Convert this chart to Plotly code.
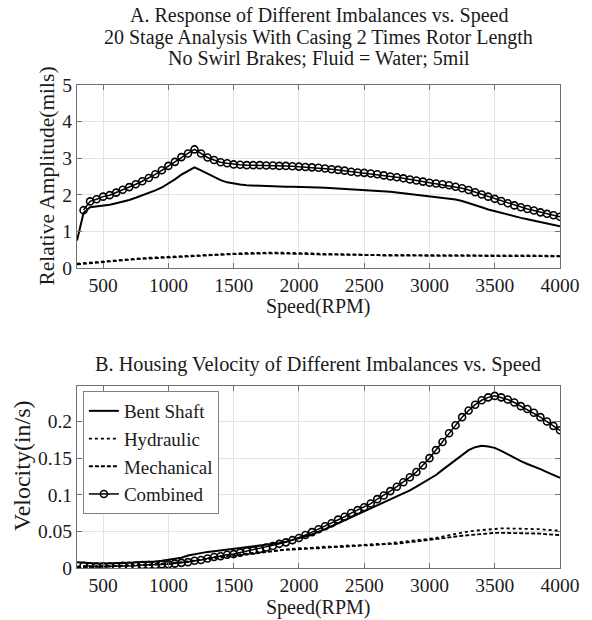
import plotly.graph_objects as go

# ---------------- data ----------------
speed = [300, 350, 400, 450, 500, 550, 600, 650, 700, 750, 800, 850, 900, 950,
         1000, 1050, 1100, 1150, 1200, 1250, 1300, 1350, 1400, 1450, 1500, 1550,
         1600, 1650, 1700, 1750, 1800, 1850, 1900, 1950, 2000, 2050, 2100, 2150,
         2200, 2250, 2300, 2350, 2400, 2450, 2500, 2550, 2600, 2650, 2700, 2750,
         2800, 2850, 2900, 2950, 3000, 3050, 3100, 3150, 3200, 3250, 3300, 3350,
         3400, 3450, 3500, 3550, 3600, 3650, 3700, 3750, 3800, 3850, 3900, 3950, 4000]

# Panel A: relative amplitude (mils)
amp_bent = [0.75, 1.50, 1.66, 1.68, 1.70, 1.73, 1.77, 1.81, 1.86, 1.92, 1.98, 2.05, 2.12, 2.20,
            2.30, 2.42, 2.55, 2.66, 2.75, 2.67, 2.58, 2.48, 2.40, 2.34, 2.30, 2.28,
            2.26, 2.25, 2.24, 2.24, 2.23, 2.23, 2.22, 2.22, 2.22, 2.21, 2.21, 2.20,
            2.19, 2.18, 2.17, 2.16, 2.15, 2.14, 2.13, 2.12, 2.11, 2.10, 2.08, 2.06,
            2.04, 2.02, 2.00, 1.98, 1.96, 1.94, 1.92, 1.90, 1.87, 1.83, 1.78, 1.72,
            1.66, 1.60, 1.55, 1.50, 1.45, 1.41, 1.37, 1.33, 1.29, 1.25, 1.21, 1.18, 1.14]
amp_hyd = [0.12, 0.13, 0.14, 0.16, 0.18, 0.19, 0.21, 0.22, 0.24, 0.25, 0.27, 0.28, 0.29, 0.30,
           0.31, 0.32, 0.33, 0.34, 0.35, 0.36, 0.37, 0.38, 0.38, 0.39, 0.40, 0.40,
           0.41, 0.41, 0.42, 0.42, 0.42, 0.42, 0.42, 0.41, 0.41, 0.40, 0.40, 0.39,
           0.39, 0.38, 0.38, 0.37, 0.37, 0.37, 0.36, 0.36, 0.36, 0.36, 0.35, 0.35,
           0.35, 0.35, 0.35, 0.35, 0.35, 0.35, 0.35, 0.35, 0.35, 0.35, 0.35, 0.35,
           0.34, 0.34, 0.34, 0.34, 0.34, 0.34, 0.34, 0.34, 0.34, 0.34, 0.34, 0.33, 0.33]
amp_mech = [0.10, 0.11, 0.12, 0.14, 0.16, 0.18, 0.19, 0.21, 0.22, 0.24, 0.25, 0.26, 0.27, 0.28,
            0.29, 0.30, 0.31, 0.32, 0.33, 0.34, 0.35, 0.36, 0.36, 0.37, 0.38, 0.38,
            0.39, 0.39, 0.40, 0.40, 0.40, 0.40, 0.40, 0.39, 0.39, 0.38, 0.38, 0.37,
            0.37, 0.37, 0.36, 0.36, 0.36, 0.35, 0.35, 0.35, 0.35, 0.34, 0.34, 0.34,
            0.34, 0.34, 0.34, 0.34, 0.34, 0.34, 0.33, 0.33, 0.33, 0.33, 0.33, 0.33,
            0.33, 0.33, 0.33, 0.33, 0.33, 0.32, 0.32, 0.32, 0.32, 0.32, 0.32, 0.32, 0.32]
amp_comb = [None, 1.58, 1.82, 1.88, 1.95, 1.99, 2.06, 2.14, 2.21, 2.29, 2.37, 2.46, 2.56, 2.67,
            2.79, 2.90, 3.03, 3.13, 3.24, 3.13, 3.02, 2.95, 2.89, 2.86, 2.83, 2.82,
            2.81, 2.81, 2.81, 2.80, 2.80, 2.79, 2.79, 2.78, 2.77, 2.76, 2.75, 2.74,
            2.72, 2.70, 2.68, 2.66, 2.63, 2.61, 2.60, 2.58, 2.56, 2.53, 2.50, 2.48,
            2.45, 2.42, 2.39, 2.36, 2.33, 2.31, 2.29, 2.26, 2.22, 2.18, 2.13, 2.07,
            2.01, 1.95, 1.89, 1.83, 1.77, 1.71, 1.66, 1.61, 1.57, 1.52, 1.48, 1.44, 1.40]

# Panel B: housing velocity (in/s)
vel_bent = [0.008, 0.007, 0.006, 0.006, 0.006, 0.006, 0.006, 0.007, 0.007, 0.008, 0.008, 0.009, 0.009, 0.010,
            0.011, 0.012, 0.014, 0.017, 0.019, 0.021, 0.022, 0.023, 0.024, 0.025, 0.026, 0.027,
            0.028, 0.029, 0.030, 0.031, 0.032, 0.034, 0.036, 0.038, 0.040, 0.043, 0.046, 0.049,
            0.053, 0.057, 0.061, 0.065, 0.069, 0.073, 0.077, 0.081, 0.085, 0.089, 0.093, 0.097,
            0.101, 0.106, 0.111, 0.116, 0.121, 0.127, 0.134, 0.141, 0.148, 0.155, 0.161, 0.165,
            0.167, 0.166, 0.164, 0.160, 0.155, 0.150, 0.146, 0.142, 0.139, 0.135, 0.131, 0.127, 0.123]
vel_hyd = [0.002, 0.002, 0.002, 0.002, 0.003, 0.003, 0.003, 0.003, 0.004, 0.004, 0.004, 0.005, 0.005, 0.006,
           0.006, 0.007, 0.008, 0.009, 0.011, 0.012, 0.013, 0.015, 0.016, 0.017, 0.018, 0.019,
           0.020, 0.021, 0.022, 0.023, 0.024, 0.025, 0.026, 0.026, 0.027, 0.027, 0.028, 0.028,
           0.029, 0.029, 0.030, 0.030, 0.031, 0.031, 0.032, 0.032, 0.033, 0.033, 0.034, 0.034,
           0.035, 0.036, 0.037, 0.038, 0.039, 0.041, 0.043, 0.045, 0.047, 0.049, 0.050, 0.051,
           0.052, 0.053, 0.053, 0.054, 0.054, 0.054, 0.054, 0.054, 0.053, 0.053, 0.052, 0.052, 0.051]
vel_mech = [0.001, 0.001, 0.001, 0.002, 0.002, 0.002, 0.003, 0.003, 0.003, 0.004, 0.004, 0.004, 0.005, 0.005,
            0.006, 0.007, 0.007, 0.008, 0.010, 0.011, 0.012, 0.014, 0.015, 0.016, 0.017, 0.018,
            0.019, 0.020, 0.021, 0.022, 0.023, 0.024, 0.025, 0.025, 0.026, 0.026, 0.027, 0.027,
            0.028, 0.028, 0.029, 0.029, 0.030, 0.030, 0.031, 0.031, 0.032, 0.032, 0.033, 0.033,
            0.034, 0.035, 0.036, 0.037, 0.038, 0.040, 0.041, 0.042, 0.043, 0.044, 0.045, 0.046,
            0.047, 0.047, 0.048, 0.048, 0.048, 0.048, 0.048, 0.048, 0.047, 0.047, 0.046, 0.046, 0.045]
vel_comb = [None, 0.003, 0.002, 0.002, 0.002, 0.002, 0.002, 0.003, 0.003, 0.003, 0.004, 0.004, 0.004, 0.005,
            0.005, 0.006, 0.007, 0.008, 0.010, 0.011, 0.013, 0.015, 0.016, 0.018, 0.019, 0.021,
            0.023, 0.024, 0.026, 0.028, 0.030, 0.033, 0.035, 0.038, 0.041, 0.045, 0.049, 0.053,
            0.057, 0.061, 0.066, 0.070, 0.075, 0.079, 0.083, 0.088, 0.094, 0.099, 0.105, 0.111,
            0.117, 0.124, 0.131, 0.140, 0.150, 0.161, 0.172, 0.184, 0.195, 0.206, 0.215, 0.223,
            0.229, 0.233, 0.235, 0.233, 0.230, 0.226, 0.221, 0.217, 0.212, 0.206, 0.200, 0.194, 0.188]

series_names = ["Bent Shaft", "Hydraulic", "Mechanical", "Combined"]
x_ticks = [500, 1000, 1500, 2000, 2500, 3000, 3500, 4000]
a_ticks = [0, 1, 2, 3, 4, 5]
b_ticks = [0, 0.05, 0.1, 0.15, 0.2]
b_ticktext = ["0", "0.05", "0.1", "0.15", "0.2"]

# ---------------- figure ----------------
FONT = "Liberation Serif, Times New Roman, serif"
INK = "#1a1a1a"
W, H = 592, 620
L, R, T, B = 77, 23, 85, 52
pw, ph = W - L - R, H - T - B


def px(x):
    return (x - L) / pw


def py(y):
    return (H - B - y) / ph


fig = go.Figure()

styles = [
    dict(mode="lines", line=dict(color="black", width=2)),
    dict(mode="lines", line=dict(color="black", width=1.8, dash="dot")),
    dict(mode="lines", line=dict(color="black", width=1.8, dash="4px,2px")),
    dict(mode="lines+markers", line=dict(color="black", width=1.5),
         marker=dict(symbol="circle-open", size=7, color="black", line=dict(width=1.6, color="black"))),
]

for name, ys, st in zip(series_names, [amp_bent, amp_hyd, amp_mech, amp_comb], styles):
    fig.add_trace(go.Scatter(x=speed, y=ys, name=name, showlegend=False,
                             xaxis="x", yaxis="y", **st))
for name, ys, st in zip(series_names, [vel_bent, vel_hyd, vel_mech, vel_comb], styles):
    fig.add_trace(go.Scatter(x=speed, y=ys, name=name, showlegend=True,
                             xaxis="x2", yaxis="y2", **st))

axis_common = dict(
    showline=True, linecolor="#707070", linewidth=1, mirror="ticks",
    ticks="inside", ticklen=5, tickcolor="#707070", tickwidth=1,
    showgrid=True, gridcolor="#e3e3e3", gridwidth=1, zeroline=False,
    tickfont=dict(family=FONT, size=19.5, color=INK),
)

top_dom = [py(268), 1.0]
bot_dom = [0.0, py(386)]

fig.update_layout(
    width=W, height=H, autosize=False,
    margin=dict(l=L, r=R, t=T, b=B),
    paper_bgcolor="white", plot_bgcolor="white",
    font=dict(family=FONT, size=19, color=INK),
    xaxis=dict(domain=[0, 1], anchor="y", range=[300, 4000], tickvals=x_ticks, **axis_common),
    yaxis=dict(domain=top_dom, anchor="x", range=[0, 5], tickvals=a_ticks, **axis_common),
    xaxis2=dict(domain=[0, 1], anchor="y2", range=[300, 4000], tickvals=x_ticks, **axis_common),
    yaxis2=dict(domain=bot_dom, anchor="x2", range=[0, 0.2485], tickvals=b_ticks,
                ticktext=b_ticktext, **axis_common),
    legend=dict(x=px(83), y=py(391), xanchor="left", yanchor="top",
                bgcolor="white", bordercolor="#808080", borderwidth=1,
                font=dict(family=FONT, size=19, color=INK),
                tracegroupgap=0),
    showlegend=True,
)

ann = []
title_a = ["A. Response of Different Imbalances vs. Speed",
           "20 Stage Analysis With Casing 2 Times Rotor Length",
           "No Swirl Brakes; Fluid = Water; 5mil"]
for txt, yy in zip(title_a, [15, 37, 58.5]):
    ann.append(dict(text=txt, x=px(323), y=py(yy), xref="paper", yref="paper",
                    xanchor="center", yanchor="middle", showarrow=False,
                    font=dict(family=FONT, size=20, color=INK)))
ann.append(dict(text="B. Housing Velocity of Different Imbalances vs. Speed",
                x=px(322), y=py(364), xref="paper", yref="paper",
                xanchor="center", yanchor="middle", showarrow=False,
                font=dict(family=FONT, size=20.3, color=INK)))
for yy in [306, 607]:
    ann.append(dict(text="Speed(RPM)", x=px(322), y=py(yy), xref="paper", yref="paper",
                    xanchor="center", yanchor="middle", showarrow=False,
                    font=dict(family=FONT, size=20, color=INK)))
ann.append(dict(text="Relative Amplitude(mils)", x=px(46), y=py(176), xref="paper", yref="paper",
                xanchor="center", yanchor="middle", showarrow=False, textangle=-90,
                font=dict(family=FONT, size=21.5, color=INK)))
ann.append(dict(text="Velocity(in/s)", x=px(21), y=py(466), xref="paper", yref="paper",
                xanchor="center", yanchor="middle", showarrow=False, textangle=-90,
                font=dict(family=FONT, size=24, color=INK)))
fig.update_layout(annotations=ann)

fig.write_html("out.html")
